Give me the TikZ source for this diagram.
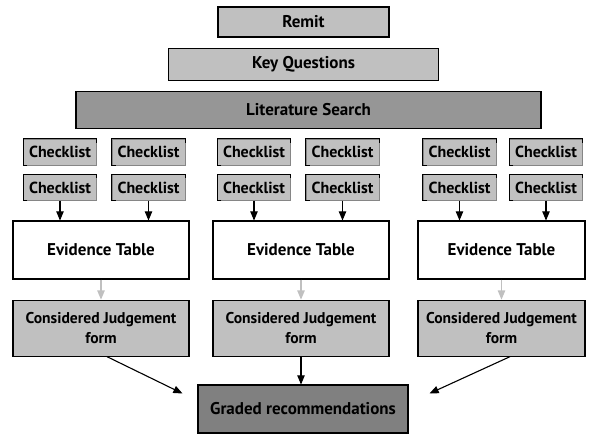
\documentclass[tikz,border=0pt]{standalone}
\usepackage{fontspec}
\setmainfont{PT Sans}
\usepackage{tikz}
\usetikzlibrary{shapes, arrows, positioning}
\definecolor{BoxGray}{HTML}{C0C0C0}
\definecolor{SearchGray}{HTML}{969696}
\definecolor{GradeGray}{HTML}{808080}

\begin{document}
\begin{tikzpicture}[
			x=1pt, y=1pt,
			box/.style={rectangle, draw, line width=1.1pt, fill=BoxGray, text centered, font=\bfseries\fontsize{17}{19}\selectfont},
			checkbox/.style={rectangle, draw=BoxGray!70!black, thin, fill=BoxGray, minimum width=73pt, minimum height=26pt, inner sep=1pt, font=\bfseries\fontsize{16}{17}\selectfont},
			arrow/.style={->, line width=1.1pt, >=triangle 45}
			]
			\useasboundingbox (0,0) rectangle (593,-434);
			% Top of the pyramid
			\node (remit) [box, minimum width=171pt, minimum height=30pt] at (303.5,-22) {Remit};
			\node (keyq) [box, below=10pt of remit, minimum width=270pt, minimum height=32pt] {Key Questions};
			\node (search) [box, below=10pt of keyq, xshift=5pt, minimum width=465pt, minimum height=37pt, fill=SearchGray] {Literature Search};
			
			% Checklists
			\foreach \x [count=\i] in {60,148.5,254,342.5,459.5,546} {
				\node (top\i) [checkbox] at (\x,-152) {Checklist};
				\node (bot\i) [checkbox, below=9pt of top\i] {Checklist};
			}
			\foreach \c in {top1,top2,top3,top4,top5,top6,bot1,bot2,bot3,bot4,bot5,bot6}
				\draw[line width=1pt] ([xshift=4pt]\c.south west) -- (\c.south west) -- (\c.north west) -- (\c.north east) -- ([yshift=-4pt]\c.north east);
			
			% Evidence tables and judgement forms
			\node (evl) [box, fill=white, minimum width=176pt, minimum height=58pt] at (101,-250) {Evidence Table};
			\node (evm) [box, fill=white, minimum width=176pt, minimum height=58pt] at (301,-250) {Evidence Table};
			\node (evr) [box, fill=white, minimum width=167pt, minimum height=58pt] at (501.5,-250) {Evidence Table};
			\node (cjl) [box, below=20pt of evl, minimum width=176pt, minimum height=56pt, align=center, font=\bfseries\fontsize{15.6}{19.5}\selectfont] {Considered Judgement\\form};
			\node (cjm) [box, below=20pt of evm, minimum width=176pt, minimum height=56pt, align=center, font=\bfseries\fontsize{15.6}{19.5}\selectfont] {Considered Judgement\\form};
			\node (cjr) [box, below=20pt of evr, minimum width=167pt, minimum height=56pt, align=center, font=\bfseries\fontsize{15.6}{19.5}\selectfont] {Considered Judgement\\form};
			\node (graded) [box, fill=GradeGray, minimum width=210pt, minimum height=48pt] at (303,-409) {Graded recommendations};
			
			% Arrows
			\foreach \i/\e in {1/evl, 2/evl, 3/evm, 4/evm, 5/evr, 6/evr}
				\draw[arrow] (bot\i) -- (bot\i |- \e.north);
			\draw[arrow, BoxGray] (evl) -- (cjl);
			\draw[arrow, BoxGray] (evm) -- (cjm);
			\draw[arrow, BoxGray] (evr) -- (cjr);
			\draw[arrow] ([xshift=6pt]cjl.south) -- ([xshift=-15pt, yshift=-9pt]graded.north west);
			\draw[arrow] (cjm.south) -- (cjm.south |- graded.north);
			\draw[arrow] ([xshift=8.5pt]cjr.south) -- ([xshift=21pt, yshift=-9pt]graded.north east);
		\end{tikzpicture}
\end{document}
